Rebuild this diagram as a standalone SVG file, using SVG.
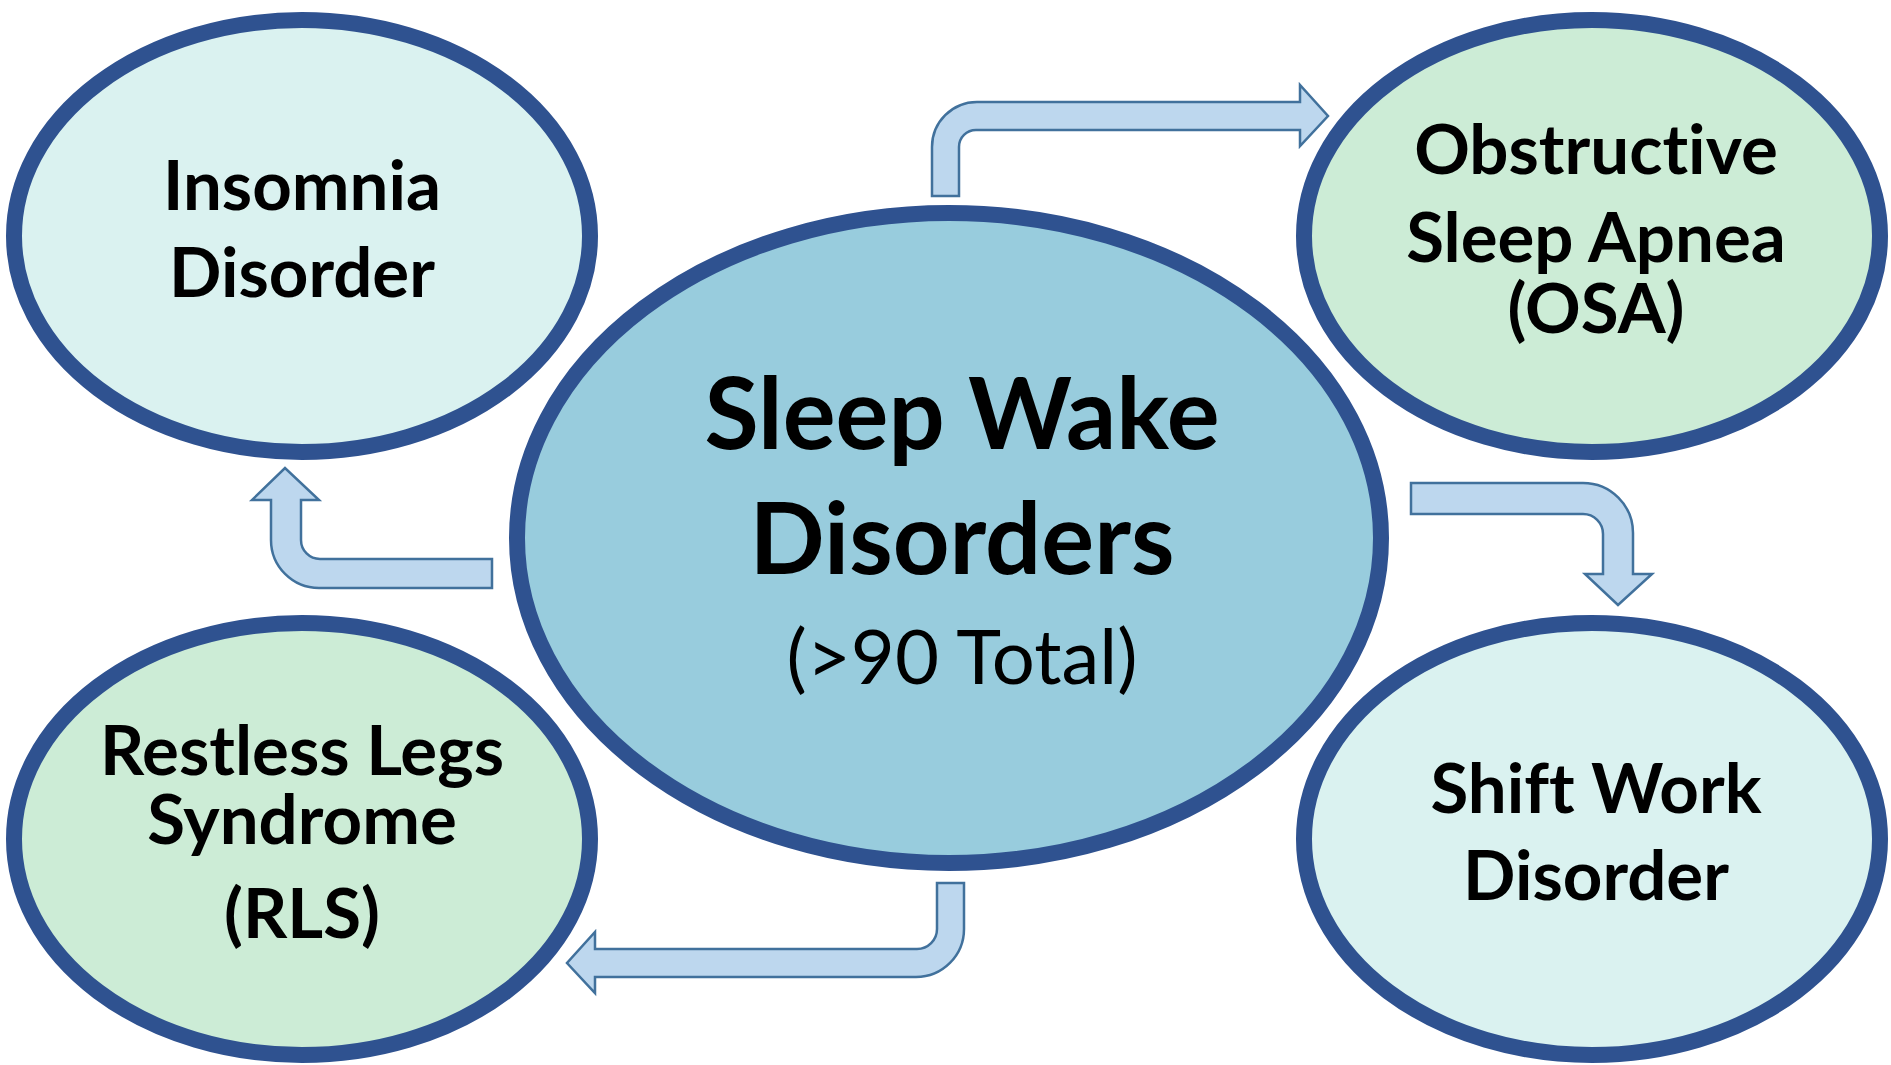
<svg xmlns="http://www.w3.org/2000/svg" width="1891" height="1065" viewBox="0 0 1891 1065">
<style>
.node{stroke:#2F5290;stroke-width:16}
.cyan{fill:#DAF2F0}
.green{fill:#CCECD6}
.main{fill:#98CCDD}
text{font-family:Lato,"Open Sans",sans-serif;fill:#000;text-anchor:middle;font-variant-ligatures:none;font-feature-settings:"liga" 0,"clig" 0}
.lbl{font-weight:bold;font-size:69px}
.big{font-weight:bold;font-size:99px}
.sub{font-weight:normal;font-size:76px}
.arrow{fill:#BDD7EE;stroke:#41719C;stroke-width:2.5;stroke-linejoin:miter}
</style>
<rect width="1891" height="1065" fill="#fff"/>
<g id="connectors">
<path class="arrow" d="M932,196 L932,147 A45,45 0 0 1 977,102 L1300,102 L1300,85 L1328,116 L1300,146 L1300,130 L976,130 A17,17 0 0 0 959,147 L959,196 Z"/>
<path class="arrow" d="M1411,483 L1583,483 A50,50 0 0 1 1633,533 L1633,574 L1652,574 L1618,605 L1585,574 L1603,574 L1603,534 A20,20 0 0 0 1583,514 L1411,514 Z"/>
<path class="arrow" d="M937,883 L964,883 L964,929 A48,48 0 0 1 916,977 L595,977 L595,993 L567,963 L595,932 L595,949 L917,949 A20,20 0 0 0 937,929 Z"/>
<path class="arrow" d="M492,559 L320,559 A19,19 0 0 1 301,540 L301,500 L319,500 L285,468 L252,500 L271,500 L271,540 A48,48 0 0 0 319,588 L492,588 Z"/>
</g>
<g id="insomnia">
<ellipse class="node cyan" cx="302" cy="236" rx="288" ry="216"/>
<text class="lbl" x="302" y="210">Insomnia</text>
<text class="lbl" x="302" y="297">Disorder</text>
</g>
<g id="osa">
<ellipse class="node green" cx="1592" cy="236" rx="288" ry="216"/>
<text class="lbl" x="1596" y="174">Obstructive</text>
<text class="lbl" x="1596" y="262">Sleep Apnea</text>
<text class="lbl" x="1596" y="333">(OSA)</text>
</g>
<g id="rls">
<ellipse class="node green" cx="302" cy="839" rx="288" ry="216"/>
<text class="lbl" x="302" y="775">Restless Legs</text>
<text class="lbl" x="302" y="844">Syndrome</text>
<text class="lbl" x="302" y="938">(RLS)</text>
</g>
<g id="shiftwork">
<ellipse class="node cyan" cx="1592" cy="839" rx="288" ry="216"/>
<text class="lbl" x="1596" y="813">Shift Work</text>
<text class="lbl" x="1596" y="900">Disorder</text>
</g>
<g id="sleepwake">
<ellipse class="node main" cx="949" cy="538" rx="432" ry="325"/>
<text class="big" x="962" y="449">Sleep Wake</text>
<text class="big" x="962" y="574">Disorders</text>
<text class="sub" x="962" y="684">(&gt;90 Total)</text>
</g>
</svg>
